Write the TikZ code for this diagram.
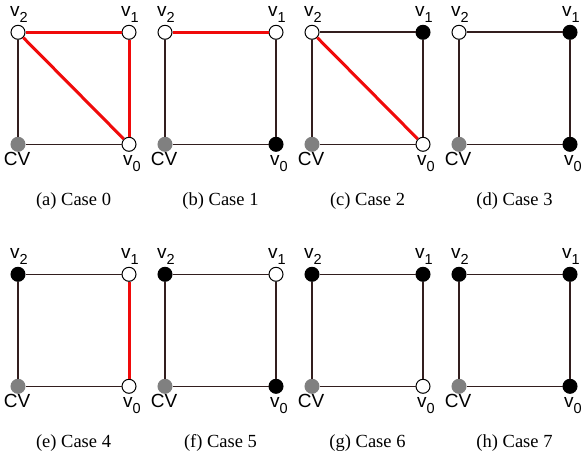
\documentclass[tikz,border=0pt]{standalone}
\usepackage{fontspec}
\setmainfont{Liberation Serif}
\newfontfamily\labelsans{Liberation Sans}
\usepackage{tikz}
\usetikzlibrary{positioning}
\definecolor{edgecolor}{RGB}{50, 30, 30}
\definecolor{redgecolor}{RGB}{240, 10, 10}
\definecolor{cvgray}{RGB}{128, 128, 128}
\newcommand{\vsub}[1]{\raisebox{-6pt}{\fontsize{14.5}{17}\selectfont #1}}
\tikzset{
vertex/.style={
  circle,
  minimum size=14pt,
  inner sep=0pt,
  line width=1pt
},
openvertex/.style={
  vertex,
  draw=black,
  fill=white
},
fullvertex/.style={
  vertex,
  draw=black,
  fill=black
},
cvvertex/.style={
  vertex,
  draw=cvgray,
  fill=cvgray
},
vlabel/.style={
  font=\labelsans\fontsize{19}{22}\selectfont,
  inner sep=0pt,
  text=black,
  anchor=base
},
toplabel/.style={
  vlabel,
  yshift=8pt,
  xshift=1pt
},
botlabel/.style={
  vlabel,
  yshift=-14pt
},
squareedge/.style={
  draw=edgecolor,
  line width=1.6pt
},
redge/.style={
  draw=redgecolor,
  line width=3pt
},
caselabel/.style={
  font=\fontsize{18.5}{22}\selectfont,
  anchor=base
}
}

\begin{document}
\begin{tikzpicture}[x=1pt, y=1pt]
  \useasboundingbox (0,0) rectangle (584,-460);
  % one panel per case: vertex styles of v0, v1, v2
  \foreach \letter/\num/\col/\row/\sz/\so/\st in {
      a/0/0/0/openvertex/openvertex/openvertex,
      b/1/1/0/fullvertex/openvertex/openvertex,
      c/2/2/0/openvertex/fullvertex/openvertex,
      d/3/3/0/fullvertex/fullvertex/openvertex,
      e/4/0/1/openvertex/openvertex/fullvertex,
      f/5/1/1/fullvertex/openvertex/fullvertex,
      g/6/2/1/openvertex/fullvertex/fullvertex,
      h/7/3/1/fullvertex/fullvertex/fullvertex} {
    \begin{scope}[shift={({18+147*\col},{-32.3-242*\row})}]
      \node[\st, label={[toplabel]above:v\vsub{2}}] (v2\letter) at (0,0) {};
      \node[\so, label={[toplabel]above:v\vsub{1}}] (v1\letter) at (111,0) {};
      \node[\sz, label={[botlabel, xshift=3pt]below:v\vsub{0}}] (v0\letter) at (111,-112) {};
      \node[cvvertex, label={[botlabel, xshift=-1pt]below:CV}] (cv\letter) at (0,-112) {};
      \draw[squareedge] (v2\letter) -- (v1\letter);
      \draw[squareedge] (v1\letter) -- (v0\letter);
      \draw[squareedge] (v0\letter) -- (cv\letter);
      \draw[squareedge] (cv\letter) -- (v2\letter);
      \node[caselabel] (cap\letter) at (55.5,-173.5) {(\letter) Case \num};
    \end{scope}
  }
  % red edges
  \foreach \from/\to in {v2a/v1a, v1a/v0a, v2a/v0a, v2b/v1b, v2c/v0c, v1e/v0e}
    \draw[redge] (\from) -- (\to);
\end{tikzpicture}
\end{document}
